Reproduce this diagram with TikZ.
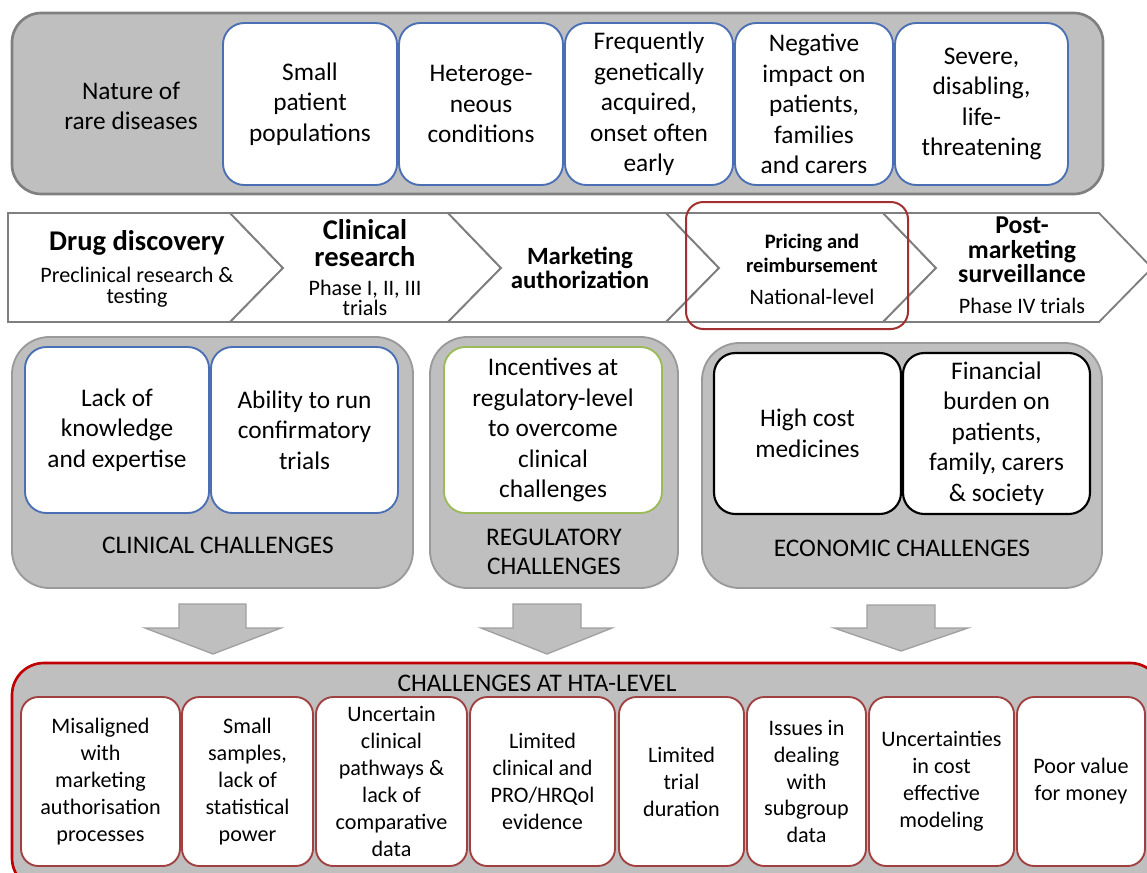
\documentclass[tikz,border=0pt]{standalone}
\usepackage{fontspec}
\setmainfont{Carlito}
\definecolor{bandfill}{HTML}{BFBFBF}
\definecolor{bandline}{HTML}{7F7F7F}
\definecolor{midline}{HTML}{9A9A9A}
\definecolor{boxblue}{HTML}{4A6FB5}
\definecolor{boxgreen}{HTML}{9BBB59}
\definecolor{chevline}{HTML}{7F7F7F}
\definecolor{pricered}{HTML}{A33030}
\definecolor{htared}{HTML}{C00000}
\definecolor{innerred}{HTML}{A04040}
\definecolor{arrowline}{HTML}{A0A0A0}
\newcommand\mybox[7]{\node[#6, minimum width={((#4)-(#2))*0.75pt}, minimum height={((#5)-(#3))*0.75pt}, inner sep=0pt, align=center] (#1) at ({((#2)+(#4))/2},{((#3)+(#5))/2}) {#7};}
\newcommand\fsMain{\fontsize{19}{22.9}\selectfont}
\newcommand\fsHta{\fontsize{16.6}{20.2}\selectfont}
\begin{document}
\begin{tikzpicture}[x=0.75pt,y=-0.75pt,
  band/.style={draw=bandline, fill=bandfill, line width=2pt, rounded corners=22pt},
  bluebox/.style={draw=boxblue, fill=white, line width=1.4pt, rounded corners=16pt, font=\fsMain},
  greenbox/.style={draw=boxgreen, fill=white, line width=1.4pt, rounded corners=16pt, font=\fsMain},
  blackbox/.style={draw=black, fill=white, line width=1.6pt, rounded corners=16pt, font=\fsMain},
  midbox/.style={draw=midline, fill=bandfill, line width=1.4pt, rounded corners=28pt},
  htabox/.style={draw=htared, fill=bandfill, line width=2pt, rounded corners=24pt},
  redbox/.style={draw=innerred, fill=white, line width=1.4pt, rounded corners=13pt, font=\fsHta},
  chev/.style={draw=chevline, fill=white, line width=1.4pt},
  ttl/.style={align=center, inner sep=0pt, font=\bfseries\fontsize{21.4}{20.5}\selectfont},
  sub/.style={align=center, inner sep=0pt, font=\fontsize{16.6}{15.5}\selectfont},
  lab/.style={align=center, inner sep=0pt, font=\fsMain},
  blockarrow/.style={draw=arrowline, fill=bandfill, line width=1pt, line join=miter}
]
\useasboundingbox (0,0) rectangle (1147,872);

% ---------- top band
\mybox{band}{12}{13}{1103}{194}{band}{}
\node[lab] (nature) at (131,106) {Nature of\\rare diseases};
\mybox{n1}{223}{23}{397}{185}{bluebox}{Small\\patient\\populations}
\mybox{n2}{399}{23}{563}{185}{bluebox}{Heteroge-\\neous\\conditions}
\mybox{n3}{565}{23}{733}{185}{bluebox}{Frequently\\genetically\\acquired,\\onset often\\early}
\mybox{n4}{735}{23}{893}{185}{bluebox}{Negative\\impact on\\patients,\\families\\and carers}
\mybox{n5}{895}{23}{1068}{185}{bluebox}{Severe,\\disabling,\\life-\\threatening}

% ---------- chevrons
\draw[chev] (8,213) -- (230,213) -- (283,268) -- (230,322) -- (8,322) -- cycle;
\draw[chev] (230,213) -- (448,213) -- (501,268) -- (448,322) -- (230,322) -- (283,268) -- cycle;
\draw[chev] (448,213) -- (666,213) -- (719,268) -- (666,322) -- (448,322) -- (501,268) -- cycle;
\draw[chev] (666,213) -- (883,213) -- (936,268) -- (883,322) -- (666,322) -- (719,268) -- cycle;
\draw[chev] (883,213) -- (1099,213) -- (1152,268) -- (1099,322) -- (883,322) -- (936,268) -- cycle;

\node[ttl] (c1t) at (137,243) {Drug discovery};
\node[sub] (c1s) at (137,287) {Preclinical research \&\\testing};
\node[ttl] (c2t) at (365,243) {Clinical\\research};
\node[sub] (c2s) at (365,298) {Phase I, II, III\\trials};
\node[ttl, font=\bfseries\fontsize{18.6}{17.6}\selectfont] (c3t) at (580,268) {Marketing\\authorization};
\node[ttl, font=\bfseries\fontsize{15.4}{18}\selectfont] (c4t) at (812,253) {Pricing and\\reimbursement};
\node[sub] (c4s) at (812,297) {National-level};
\node[ttl, font=\bfseries\fontsize{19.3}{18.2}\selectfont] (c5t) at (1022,250) {Post-\\marketing\\surveillance};
\node[sub] (c5s) at (1022,306) {Phase IV trials};
\draw[pricered, line width=1.5pt, rounded corners=13pt] (686,202) rectangle (908,329);

% ---------- middle challenges
\mybox{clin}{12}{337}{413}{588}{midbox}{}
\mybox{cl1}{25}{347}{209}{513}{bluebox}{Lack of\\knowledge\\and expertise}
\mybox{cl2}{211}{347}{398}{513}{bluebox}{Ability to run\\confirmatory\\trials}
\node[lab] (clinlab) at (218,545) {CLINICAL CHALLENGES};

\mybox{reg}{430}{337}{678}{588}{midbox}{}
\mybox{rg1}{444}{347}{662}{513}{greenbox}{Incentives at\\regulatory-level\\to overcome\\clinical\\challenges}
\node[lab, font=\fontsize{19}{21.5}\selectfont] (reglab) at (554,552) {REGULATORY\\CHALLENGES};

\mybox{eco}{702}{343}{1102}{588}{midbox}{}
\mybox{ec1}{714}{353}{901}{514}{blackbox}{High cost\\medicines}
\mybox{ec2}{903}{353}{1090}{514}{blackbox}{Financial\\burden on\\patients,\\family, carers\\\& society}
\node[lab] (ecolab) at (902,548) {ECONOMIC CHALLENGES};

% ---------- block arrows
\draw[blockarrow] (179,604) -- (246,604) -- (246,628) -- (281,628) -- (213,654) -- (145,628) -- (179,628) -- cycle;
\draw[blockarrow] (513,604) -- (581,604) -- (581,628) -- (612,628) -- (547,654) -- (481,628) -- (513,628) -- cycle;
\draw[blockarrow] (867,605) -- (935,605) -- (935,628) -- (968,628) -- (901,651) -- (834,628) -- (867,628) -- cycle;

% ---------- HTA level
\mybox{hta}{12}{663}{1162}{890}{htabox}{}
\node[lab] (htalab) at (537,683) {CHALLENGES AT HTA-LEVEL};
\mybox{h1}{21}{697}{180}{866}{redbox}{Misaligned\\with\\marketing\\authorisation\\processes}
\mybox{h2}{182}{697}{313}{866}{redbox}{Small\\samples,\\lack of\\statistical\\power}
\mybox{h3}{316}{697}{467}{866}{redbox}{Uncertain\\clinical\\pathways \&\\lack of\\comparative\\data}
\mybox{h4}{470}{697}{615}{866}{redbox}{Limited\\clinical and\\PRO/HRQol\\evidence}
\mybox{h5}{619}{697}{744}{866}{redbox}{Limited\\trial\\duration}
\mybox{h6}{747}{697}{866}{866}{redbox}{Issues in\\dealing\\with\\subgroup\\data}
\mybox{h7}{869}{697}{1014}{866}{redbox}{Uncertainties\\in cost\\effective\\modeling}
\mybox{h8}{1017}{697}{1145}{866}{redbox}{Poor value\\for money}
\end{tikzpicture}
\end{document}
